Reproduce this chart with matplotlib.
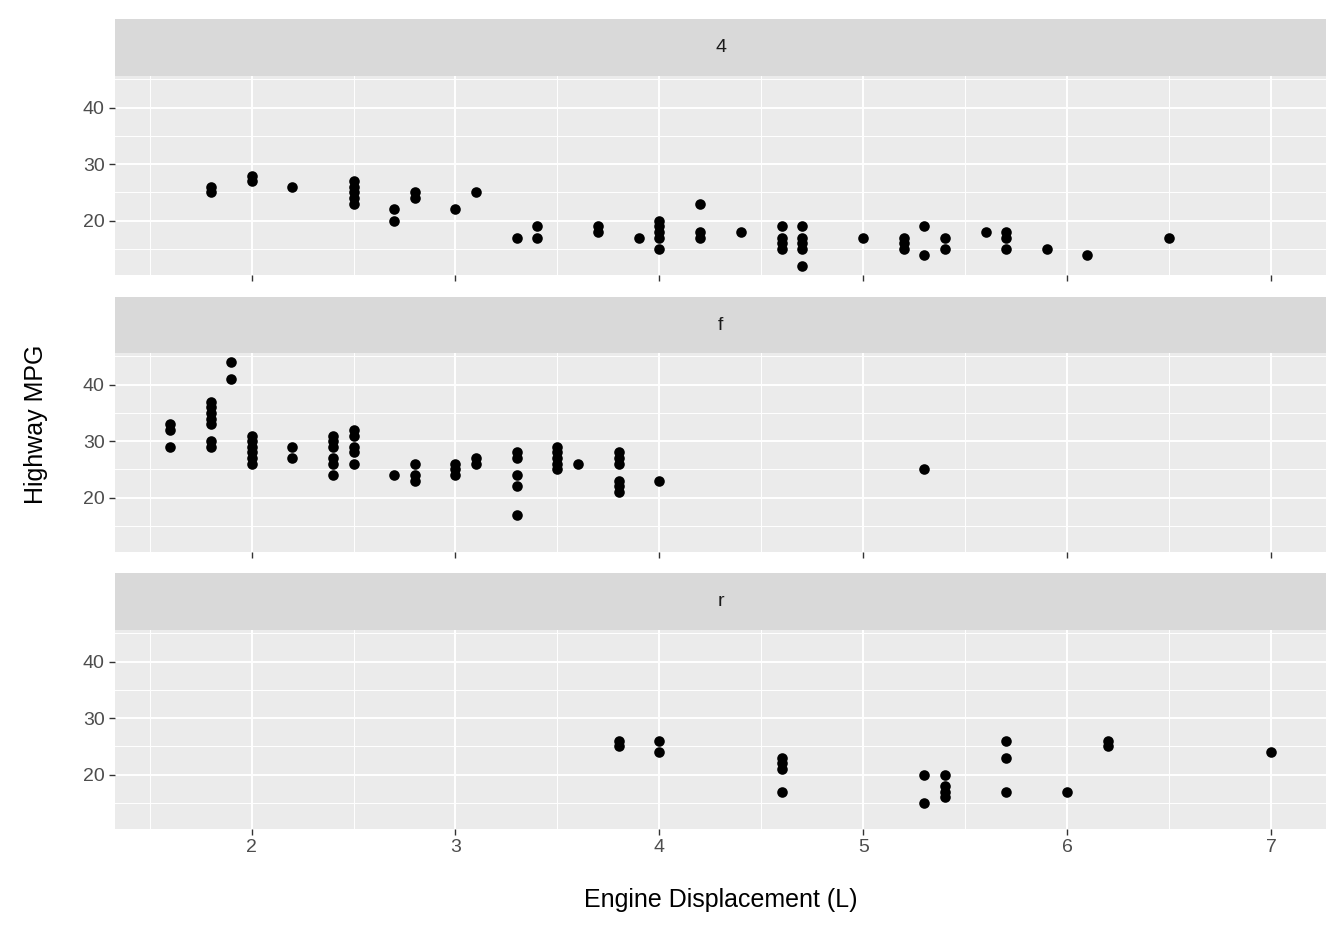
import matplotlib.pyplot as plt

plt.rcParams['font.family'] = ['Liberation Sans', 'DejaVu Sans']

# data (mpg, faceted by drive train)
drv_labels = ['4', 'f', 'r']
x4 = [1.8,1.8,2.0,2.0,2.2,2.5,2.5,2.5,2.5,2.5,2.7,2.7,2.8,2.8,3.0,3.1,3.3,3.4,3.4,3.7,3.7,3.9,
      4.0,4.0,4.0,4.0,4.0,4.2,4.2,4.2,4.4,4.6,4.6,4.6,4.6,4.7,4.7,4.7,4.7,4.7,5.0,5.2,5.2,5.2,
      5.3,5.3,5.4,5.4,5.6,5.7,5.7,5.7,5.9,6.1,6.5]
y4 = [25,26,27,28,26,23,24,25,26,27,20,22,24,25,22,25,17,17,19,18,19,17,
      15,17,18,19,20,17,18,23,18,15,16,17,19,12,15,16,17,19,17,15,16,17,
      14,19,15,17,18,15,17,18,15,14,17]
xf = [1.6,1.6,1.6,1.8,1.8,1.8,1.8,1.8,1.8,1.8,1.9,1.9,2.0,2.0,2.0,2.0,2.0,2.0,2.2,2.2,
      2.4,2.4,2.4,2.4,2.4,2.4,2.5,2.5,2.5,2.5,2.5,2.7,2.8,2.8,2.8,3.0,3.0,3.0,3.1,3.1,
      3.3,3.3,3.3,3.3,3.3,3.5,3.5,3.5,3.5,3.5,3.6,3.8,3.8,3.8,3.8,3.8,3.8,4.0,5.3]
yf = [29,32,33,29,30,33,34,35,36,37,41,44,26,27,28,29,30,31,27,29,
      24,26,27,29,30,31,26,28,29,31,32,24,23,24,26,24,25,26,26,27,
      17,22,24,27,28,25,26,27,28,29,26,21,22,23,26,27,28,23,25]
xr = [3.8,3.8,4.0,4.0,4.6,4.6,4.6,4.6,5.3,5.3,5.4,5.4,5.4,5.4,5.7,5.7,5.7,6.0,6.2,6.2,7.0]
yr = [25,26,24,26,17,21,22,23,15,20,16,17,18,20,17,23,26,17,25,26,24]
xs = [x4, xf, xr]
ys = [y4, yf, yr]

W, H = 1344, 940
fig = plt.figure(figsize=(W/100, H/100), dpi=100)
left, right = 115, 1326
panels = [(19, 76, 275), (297, 353, 552), (573, 630, 829)]

for i, (st, pt, pb) in enumerate(panels):
    ax = fig.add_axes([left/W, 1-pb/H, (right-left)/W, (pb-pt)/H])
    ax.set_facecolor('#EBEBEB')
    ax.set_xlim(1.33, 7.27)
    ax.set_ylim(10.4, 45.6)
    for v in [1.5, 2.5, 3.5, 4.5, 5.5, 6.5]:
        ax.axvline(v, color='white', lw=0.7, zorder=0)
    for v in [15, 25, 35, 45]:
        ax.axhline(v, color='white', lw=0.7, zorder=0)
    for v in range(2, 8):
        ax.axvline(v, color='white', lw=1.4, zorder=0)
    for v in [20, 30, 40]:
        ax.axhline(v, color='white', lw=1.4, zorder=0)
    ax.scatter(xs[i], ys[i], s=58, color='black', zorder=3, linewidths=0)
    for s in ax.spines.values():
        s.set_visible(False)
    ax.set_yticks([20, 30, 40])
    ax.set_xticks(range(2, 8))
    ax.tick_params(colors='#333333', labelcolor='#4D4D4D', labelsize=14, length=4, width=1)
    if i < 2:
        ax.tick_params(axis='x', labelbottom=False)
    sax = fig.add_axes([left/W, 1-st/H - (pt-st)/H, (right-left)/W, (pt-st)/H])
    sax.set_facecolor('#D9D9D9')
    sax.set_xticks([]); sax.set_yticks([])
    for s in sax.spines.values():
        s.set_visible(False)
    sax.text(0.5, 0.5, drv_labels[i], ha='center', va='center', fontsize=14, color='#1A1A1A',
             transform=sax.transAxes)

fig.text((left+right)/2/W, 1-900/H, 'Engine Displacement (L)', ha='center', va='center', fontsize=18)
fig.text(36/W, 1-424/H, 'Highway MPG', ha='center', va='center', rotation=90, fontsize=18)
fig.savefig('out.png', dpi=100)
